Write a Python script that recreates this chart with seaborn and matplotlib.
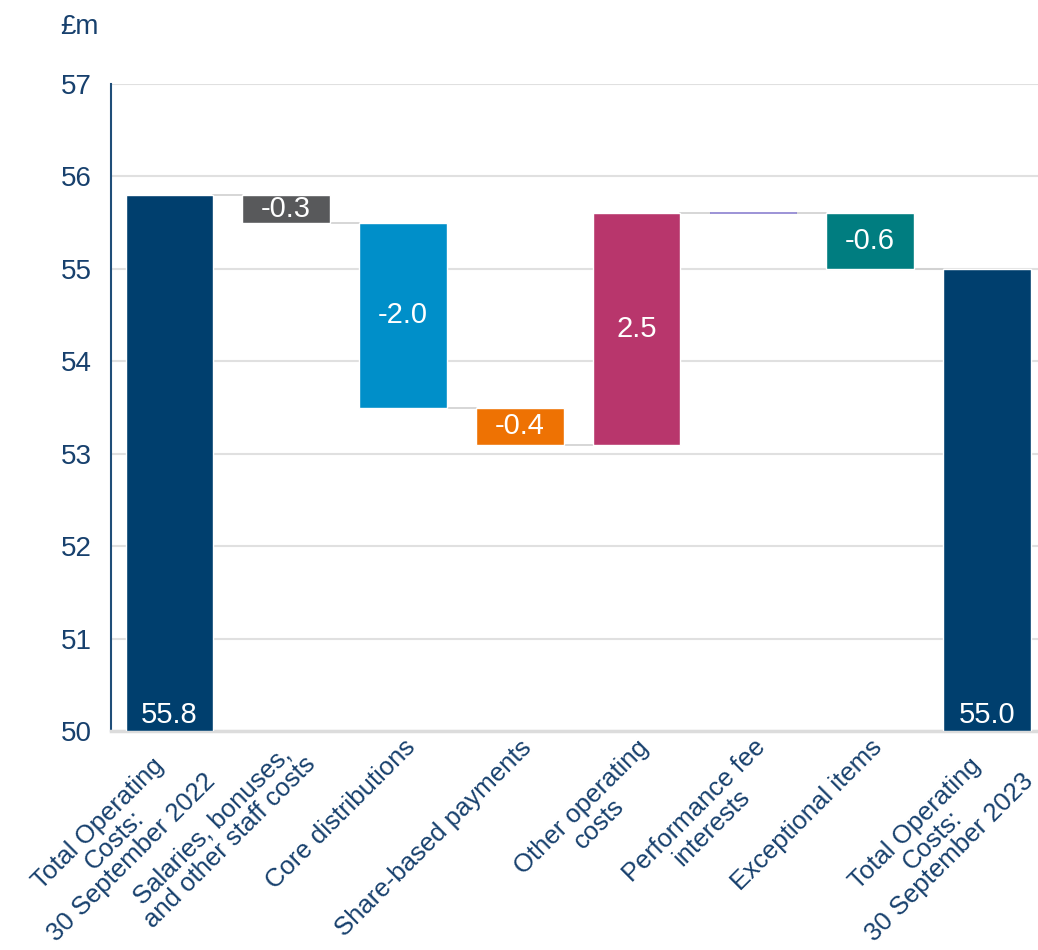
import matplotlib
matplotlib.use("Agg")
import matplotlib.pyplot as plt
import seaborn as sns
import pandas as pd

# Operating costs bridge, £m
categories = [
    "Total Operating\nCosts:\n30 September 2022",
    "Salaries, bonuses,\nand other staff costs",
    "Core distributions",
    "Share-based payments",
    "Other operating\ncosts",
    "Performance fee\ninterests",
    "Exceptional items",
    "Total Operating\nCosts:\n30 September 2023",
]
changes = [55.8, -0.3, -2.0, -0.4, 2.5, 0.0, -0.6, 55.0]
is_total = [True, False, False, False, False, False, False, True]
bar_labels = ["55.8", "-0.3", "-2.0", "-0.4", "2.5", "", "-0.6", "55.0"]
colors = ["#003F6E", "#58595B", "#008FC9", "#EE7203", "#B8366C", "#8B80D0", "#007D80", "#003F6E"]

BASE = 50.0
TEXT = "#17406D"

# work out floating bar bottoms / tops
bottoms, tops = [], []
level = 0.0
for val, tot in zip(changes, is_total):
    if tot:
        bottoms.append(BASE)
        tops.append(val)
        level = val
    else:
        new = level + val
        bottoms.append(min(level, new))
        tops.append(max(level, new))
        level = new

df = pd.DataFrame({"category": categories, "top": tops})

sns.set_style("white")
plt.rcParams["font.family"] = ["Liberation Sans", "DejaVu Sans"]

fig = plt.figure(figsize=(10.38, 9.5), dpi=100)
ax = fig.add_axes([0.107, 0.2305, 0.9, 0.681])

sns.barplot(data=df, x="category", y="top", hue="category", palette=colors,
            saturation=1, legend=False, width=0.75, ax=ax, zorder=3)

# turn the bars into floating waterfall blocks
for patch, b, t, c in zip(ax.patches, bottoms, tops, colors):
    patch.set_y(b)
    patch.set_height(t - b)
    if t - b == 0:
        patch.set_edgecolor(c)
        patch.set_linewidth(1.2)

# connector lines
half = 0.375
level = 0.0
for i, (val, tot) in enumerate(zip(changes, is_total)):
    level = val if tot else level + val
    if i < len(changes) - 1:
        ax.plot([i + half, i + 1 - half], [level, level], color="#D0D0D0", lw=1.2, zorder=2)

# value labels
for i, (lab, b, t, tot) in enumerate(zip(bar_labels, bottoms, tops, is_total)):
    if not lab:
        continue
    if tot:
        ax.text(i, b + 0.02, lab, ha="center", va="bottom", color="white", fontsize=21, zorder=4)
    else:
        ax.text(i, (b + t) / 2, lab, ha="center", va="center", color="white", fontsize=21, zorder=4)

ax.set_ylim(50, 57)
ax.set_xlim(-0.5, 7.5)
ax.set_yticks(range(50, 58))
ax.yaxis.grid(True, color="#E0E0E0", lw=1.5, zorder=0)
ax.set_axisbelow(True)
ax.set_xlabel("")
ax.set_ylabel("")

for side in ["top", "right"]:
    ax.spines[side].set_visible(False)
ax.spines["left"].set_color("#1F4E79")
ax.spines["left"].set_linewidth(1.5)
ax.spines["bottom"].set_color("#DCDCDC")
ax.spines["bottom"].set_linewidth(2.5)

ax.tick_params(axis="y", length=0, pad=14, labelsize=20, labelcolor=TEXT)
ax.tick_params(axis="x", length=0, pad=3, labelsize=18.5, labelcolor=TEXT)
ax.set_xticks(range(len(categories)))
ax.set_xticklabels(categories, rotation=45, ha="right", rotation_mode="anchor",
                   multialignment="center", linespacing=1.0)

fig.text(0.077, 0.972, "£m", ha="center", va="center", fontsize=20, color=TEXT)

fig.savefig("out.png", dpi=100)
